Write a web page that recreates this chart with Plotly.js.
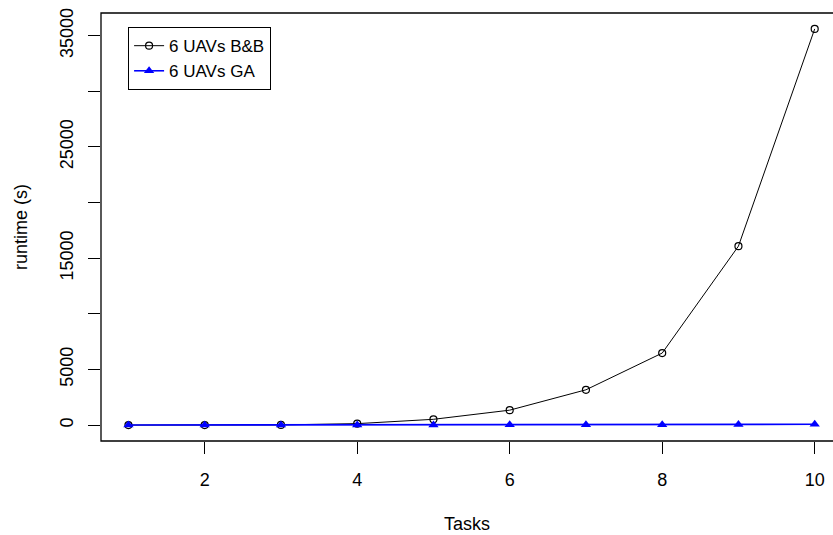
<!DOCTYPE html>
<html>
<head>
<meta charset="utf-8">
<script src="https://cdn.plot.ly/plotly-3.0.1.min.js"></script>
<style>html,body{margin:0;padding:0;background:#fff;}#chart{width:833px;height:535px;}</style>
</head>
<body>
<div id="chart"></div>
<script>
const tasks = [1, 2, 3, 4, 5, 6, 7, 8, 9, 10];
const bbRuntime = [0.5, 2, 15, 130, 520, 1340, 3170, 6470, 16080, 35600];
const gaRuntime = [3, 5, 8, 12, 16, 22, 30, 40, 55, 70];
const xTickVals = [2, 4, 6, 8, 10];
const yTickVals = [0, 5000, 10000, 15000, 20000, 25000, 30000, 35000];
const yTickText = ['0', '5000', '', '15000', '', '25000', '', '35000'];
const seriesNames = ['6 UAVs B&B', '6 UAVs GA'];

const font = 'Liberation Sans, Arial, sans-serif';

const traces = [
  {
    x: tasks, y: bbRuntime, name: seriesNames[0], type: 'scatter', mode: 'lines+markers',
    line: {color: '#000000', width: 1},
    marker: {symbol: 'circle-open', size: 7, color: '#000000', line: {width: 1.2, color: '#000000'}}
  },
  {
    x: tasks, y: gaRuntime, name: seriesNames[1], type: 'scatter', mode: 'lines+markers',
    line: {color: '#0000FF', width: 1.6},
    marker: {symbol: 'triangle-up', size: 9, color: '#0000FF'}
  }
];

const layout = {
  width: 833, height: 535,
  margin: {l: 101, r: 0, t: 13, b: 94},
  paper_bgcolor: '#ffffff', plot_bgcolor: '#ffffff',
  font: {family: font, size: 18, color: '#000000'},
  showlegend: true,
  legend: {
    x: 0.037, y: 0.967, xanchor: 'left', yanchor: 'top',
    bgcolor: '#ffffff', bordercolor: '#000000', borderwidth: 1,
    font: {family: font, size: 17, color: '#000000'},
    tracegroupgap: 0
  },
  xaxis: {
    range: [0.64, 10.24], tickvals: xTickVals, ticks: 'outside', ticklen: 12, tickcolor: '#000000', tickwidth: 1,
    showgrid: false, zeroline: false, showline: false,
    tickfont: {family: font, size: 18, color: '#000000'},
    ticklabelstandoff: 10,
    title: {text: 'Tasks', font: {family: font, size: 18, color: '#000000'}, standoff: 28},
    automargin: false
  },
  yaxis: {
    range: [-1430, 37030], tickvals: yTickVals, ticktext: yTickText, tickangle: -90,
    ticks: 'outside', ticklen: 12, tickcolor: '#000000', tickwidth: 1,
    showgrid: false, zeroline: false, showline: false,
    tickfont: {family: font, size: 18, color: '#000000'},
    ticklabelstandoff: 8,
    title: {text: 'runtime (s)', font: {family: font, size: 18, color: '#000000'}, standoff: 24},
    automargin: false
  },
  shapes: [
    {type: 'rect', xref: 'paper', yref: 'paper', x0: 0, x1: 1.05, y0: 0, y1: 1,
     line: {color: '#000000', width: 1.3}, fillcolor: 'rgba(0,0,0,0)', layer: 'above'}
  ]
};

Plotly.newPlot('chart', traces, layout, {displayModeBar: false, staticPlot: true});
</script>
</body>
</html>
